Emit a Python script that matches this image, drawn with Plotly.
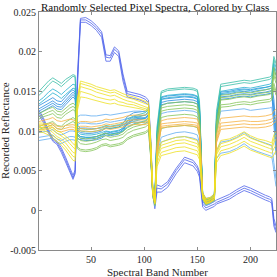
import plotly.graph_objects as go

# Key spectral band positions where values were read
bands = [1, 5, 10, 14, 18, 22, 26, 30, 33, 35,
         37, 40, 45, 50, 55, 60, 64, 68, 72, 76, 80, 84, 90, 96, 101, 104,
         106, 108, 110, 112,
         116, 122, 130, 138, 146, 150, 152,
         155, 158, 162, 166,
         168, 172, 180, 187, 194, 200, 207, 214, 218,
         220, 222, 224]

# Reflectance values (x 1e-3), one list per drawn spectrum
bp1 = [12.3, 11.4, 9.9, 8.9, 8.5, 7.6, 6.4, 5.0, 4.1, 4.8,
       16.0, 24.0, 24.0, 23.6, 23.0, 22.2, 19.3, 19.2, 20.3, 19.8, 16.8, 14.7, 14.5, 14.3, 14.0, 13.6,
       9.0, 2.5, 0.8, 2.8,
       2.7, 3.3, 5.0, 6.4, 6.0, 5.3, 4.6,
       0.8, 0.3, 0.5, 0.8,
       1.0, 1.2, 1.7, 2.3, 2.8, 2.5, 2.0, 1.6, 1.4,
       1.2, -1.5, -2.5]
bp2 = [12.0, 11.1, 9.7, 8.7, 8.3, 7.3, 6.1, 4.7, 3.9, 4.6,
       15.0, 23.7, 23.7, 23.3, 22.7, 21.8, 18.8, 18.8, 19.9, 19.4, 16.3, 14.3, 14.1, 13.9, 13.6, 13.3,
       8.5, 2.0, 0.2, 2.3,
       2.3, 2.9, 4.6, 6.0, 5.6, 4.9, 4.2,
       0.4, 0.0, 0.3, 0.5,
       0.8, 1.0, 1.4, 2.0, 2.5, 2.2, 1.7, 1.3, 1.1,
       0.9, -2.0, -2.8]
bp3 = [12.6, 11.7, 10.1, 9.1, 8.7, 7.9, 6.7, 5.3, 4.4, 5.1,
       16.5, 24.2, 24.3, 23.9, 23.3, 22.5, 19.6, 19.5, 20.6, 20.1, 17.2, 15.0, 14.8, 14.6, 14.3, 13.9,
       9.4, 3.0, 1.2, 3.2,
       3.0, 3.6, 5.3, 6.7, 6.3, 5.6, 4.9,
       1.1, 0.6, 0.8, 1.1,
       1.3, 1.5, 2.0, 2.6, 3.1, 2.8, 2.3, 1.9, 1.7,
       1.5, -1.0, -2.0]

mb1 = [12.8, 13.1, 13.5, 13.8, 13.4, 13.3, 13.9, 14.5, 14.9, 14.6,
       10.2, 9.8, 9.7, 9.7, 9.8, 10.0, 10.4, 10.3, 10.4, 10.5, 10.9, 11.8, 12.3, 12.4, 12.5, 12.9,
       8.5, 2.7, 1.3, 9.5,
       14.2, 14.4, 14.5, 14.6, 14.5, 14.3, 13.0,
       2.0, 1.3, 1.4, 1.9,
       11.5, 14.9, 15.0, 15.2, 15.3, 15.2, 15.4, 15.5, 15.6,
       15.7, 14.0, 10.0]
mb2 = [12.2, 12.5, 12.9, 13.2, 12.8, 12.7, 13.3, 13.9, 14.3, 14.0,
       9.7, 9.3, 9.2, 9.2, 9.3, 9.5, 9.9, 9.8, 9.9, 10.0, 10.4, 11.3, 11.8, 11.9, 12.0, 12.4,
       8.0, 2.3, 1.0, 9.0,
       13.6, 13.8, 13.9, 14.0, 13.9, 13.7, 12.4,
       1.8, 1.0, 1.2, 1.6,
       11.0, 14.3, 14.4, 14.6, 14.7, 14.6, 14.8, 14.9, 15.0,
       15.1, 12.0, 8.0]
mb3 = [12.5, 12.8, 13.2, 13.5, 13.1, 13.0, 13.6, 14.2, 14.6, 14.3,
       9.5, 9.1, 9.0, 9.0, 9.1, 9.3, 9.7, 9.6, 9.7, 9.8, 10.2, 11.0, 11.5, 11.6, 11.7, 12.1,
       7.8, 2.2, 0.9, 8.8,
       13.3, 13.5, 13.6, 13.7, 13.6, 13.4, 12.1,
       1.7, 1.0, 1.1, 1.5,
       10.8, 14.0, 14.1, 14.3, 14.4, 14.3, 14.5, 14.6, 14.7,
       14.8, 11.0, 7.0]
mb4 = [13.2, 13.5, 13.9, 14.2, 13.8, 13.7, 14.3, 14.9, 15.2, 14.9,
       9.0, 8.9, 8.8, 8.8, 8.9, 9.1, 9.5, 9.4, 9.5, 9.6, 10.0, 10.9, 11.4, 11.5, 11.6, 12.0,
       7.6, 2.1, 0.8, 9.2,
       14.0, 14.1, 14.2, 14.3, 14.2, 14.0, 12.7,
       1.9, 1.1, 1.3, 1.7,
       11.2, 14.6, 14.7, 14.9, 15.0, 14.9, 15.1, 15.2, 15.3,
       15.4, 13.0, 9.0]

lb1 = [9.8, 9.9, 10.0, 10.2, 9.7, 9.5, 9.8, 10.0, 10.0, 9.9,
       11.8, 12.0, 12.0, 11.9, 11.9, 12.0, 12.1, 12.0, 12.1, 12.2, 12.3, 12.4, 12.5, 12.5, 12.4, 12.6,
       8.2, 2.4, 1.0, 9.0,
       12.2, 12.4, 12.5, 12.6, 12.5, 12.3, 11.0,
       1.8, 1.0, 1.2, 1.6,
       10.0, 12.5, 12.6, 12.7, 12.8, 12.6, 12.7, 12.8, 12.9,
       13.0, 11.0, 8.0]
lb2 = [9.2, 9.3, 9.4, 9.5, 9.0, 8.8, 9.1, 9.3, 9.3, 9.2,
       10.8, 11.0, 11.0, 10.9, 10.9, 11.0, 11.2, 11.1, 11.2, 11.3, 11.4, 11.6, 11.7, 11.7, 11.6, 11.8,
       7.8, 2.1, 0.8, 7.0,
       9.2, 9.5, 9.8, 9.9, 9.7, 9.5, 8.5,
       1.6, 0.8, 1.0, 1.4,
       7.5, 8.6, 8.8, 9.2, 9.8, 9.2, 8.8, 8.5, 8.3,
       8.2, 6.0, 4.0]
lb3 = [8.8, 8.9, 9.0, 9.1, 8.6, 8.4, 8.7, 8.9, 8.9, 8.8,
       10.2, 10.4, 10.4, 10.3, 10.3, 10.4, 10.6, 10.5, 10.6, 10.7, 10.8, 11.0, 11.1, 11.1, 11.0, 11.2,
       7.5, 1.9, 0.5, 6.5,
       8.6, 8.9, 9.2, 9.3, 9.1, 8.9, 8.0,
       1.4, 0.6, 0.8, 1.2,
       6.5, 7.2, 7.4, 7.8, 8.4, 7.8, 7.4, 7.1, 6.9,
       6.8, 5.0, 3.0]

cy1 = [14.5, 15.0, 15.8, 16.3, 16.0, 15.6, 16.1, 16.6, 16.9, 16.8,
       10.5, 10.0, 9.9, 9.9, 10.0, 10.2, 10.4, 10.3, 10.4, 10.5, 10.7, 11.2, 11.6, 11.8, 12.0, 12.4,
       8.5, 2.8, 1.4, 10.0,
       14.8, 15.1, 15.2, 15.3, 15.2, 15.0, 13.5,
       2.1, 1.4, 1.5, 2.0,
       12.0, 15.6, 15.8, 16.0, 16.1, 16.0, 16.2, 16.4, 16.5,
       16.7, 19.0, 18.0]
cy2 = [13.8, 14.2, 14.9, 15.3, 15.0, 14.6, 15.1, 15.6, 15.9, 15.8,
       10.0, 9.6, 9.5, 9.5, 9.6, 9.8, 10.0, 9.9, 10.0, 10.1, 10.3, 10.8, 11.2, 11.4, 11.6, 12.0,
       8.2, 2.5, 1.1, 9.5,
       14.3, 14.5, 14.6, 14.7, 14.6, 14.4, 13.0,
       1.9, 1.2, 1.3, 1.8,
       11.5, 15.0, 15.2, 15.4, 15.5, 15.4, 15.6, 15.8, 15.9,
       16.1, 18.5, 17.5]
cy3 = [15.0, 15.6, 16.3, 16.7, 16.4, 16.0, 16.5, 16.9, 17.1, 17.0,
       10.8, 10.3, 10.2, 10.2, 10.3, 10.5, 10.7, 10.6, 10.7, 10.8, 11.0, 11.5, 11.9, 12.1, 12.3, 12.7,
       8.8, 3.0, 1.5, 10.5,
       15.0, 15.3, 15.4, 15.5, 15.4, 15.2, 13.8,
       2.2, 1.5, 1.6, 2.1,
       12.5, 15.9, 16.1, 16.3, 16.4, 16.3, 16.5, 16.7, 16.8,
       17.0, 19.4, 18.5]
cy4 = [13.4, 13.8, 14.4, 14.8, 14.5, 14.1, 14.6, 15.1, 15.4, 15.3,
       9.6, 9.3, 9.2, 9.2, 9.3, 9.5, 9.7, 9.6, 9.7, 9.8, 10.0, 10.5, 10.9, 11.1, 11.3, 11.7,
       8.0, 2.3, 1.0, 9.2,
       14.0, 14.2, 14.3, 14.4, 14.3, 14.1, 12.7,
       1.8, 1.1, 1.2, 1.7,
       11.2, 14.7, 14.9, 15.1, 15.2, 15.1, 15.3, 15.5, 15.6,
       15.8, 18.0, 17.0]

gr1 = [12.2, 12.5, 12.8, 13.0, 12.5, 12.4, 12.9, 13.3, 13.5, 13.3,
       9.5, 9.1, 9.0, 9.1, 9.3, 9.6, 9.7, 9.5, 9.6, 9.7, 9.9, 10.4, 10.8, 11.0, 11.2, 11.5,
       8.0, 2.6, 1.2, 9.0,
       13.2, 13.5, 13.6, 13.7, 13.6, 13.4, 12.0,
       2.0, 1.3, 1.4, 1.8,
       11.0, 14.5, 14.6, 14.8, 14.9, 14.8, 15.0, 15.2, 15.3,
       15.5, 18.0, 17.0]
gr2 = [11.5, 11.8, 12.0, 12.2, 11.7, 11.6, 12.1, 12.5, 12.7, 12.5,
       8.8, 8.4, 8.3, 8.4, 8.6, 8.9, 9.0, 8.8, 8.9, 9.0, 9.2, 9.7, 10.1, 10.3, 10.5, 10.8,
       7.5, 2.2, 0.9, 8.5,
       12.5, 12.7, 12.8, 12.9, 12.8, 12.6, 11.3,
       1.7, 1.0, 1.2, 1.5,
       10.5, 13.9, 14.0, 14.2, 14.3, 14.2, 14.4, 14.5, 14.6,
       14.8, 17.0, 16.0]
gr3 = [10.5, 10.8, 11.0, 11.2, 10.7, 10.6, 11.1, 11.5, 11.7, 11.5,
       8.0, 7.7, 7.6, 7.7, 7.9, 8.3, 8.4, 8.2, 8.3, 8.4, 8.6, 9.1, 9.5, 9.7, 9.9, 10.2,
       7.0, 1.9, 0.7, 8.0,
       11.7, 11.9, 12.0, 12.1, 12.0, 11.8, 10.6,
       1.5, 0.8, 1.0, 1.3,
       10.0, 13.3, 13.4, 13.6, 13.7, 13.6, 13.8, 13.9, 14.0,
       14.2, 16.0, 15.0]
gr4 = [11.8, 12.1, 12.4, 12.6, 12.1, 12.0, 12.5, 12.9, 13.1, 12.9,
       9.2, 8.8, 8.7, 8.8, 9.0, 9.3, 9.4, 9.2, 9.3, 9.4, 9.6, 10.1, 10.5, 10.7, 10.9, 11.2,
       7.8, 2.4, 1.0, 8.8,
       12.9, 13.1, 13.2, 13.3, 13.2, 13.0, 11.7,
       1.8, 1.1, 1.3, 1.6,
       10.8, 14.2, 14.3, 14.5, 14.6, 14.5, 14.7, 14.8, 14.9,
       15.1, 17.5, 16.5]
gr5 = [10.2, 10.4, 10.6, 10.8, 10.3, 10.2, 10.7, 11.0, 11.2, 11.0,
       7.8, 7.5, 7.4, 7.5, 7.7, 8.1, 8.2, 8.0, 8.1, 8.2, 8.4, 8.9, 9.3, 9.5, 9.7, 10.0,
       6.8, 1.8, 0.6, 7.5,
       10.3, 10.5, 10.6, 10.7, 10.6, 10.4, 9.4,
       1.4, 0.7, 0.9, 1.2,
       9.5, 13.0, 13.1, 13.3, 13.4, 13.3, 13.5, 13.6, 13.7,
       13.9, 15.5, 14.5]

or1 = [11.2, 11.3, 11.5, 11.7, 11.3, 11.2, 11.4, 11.5, 11.4, 11.3,
       11.0, 11.2, 11.2, 11.1, 11.2, 11.3, 11.5, 11.4, 11.5, 11.6, 11.7, 11.9, 12.0, 12.0, 12.0, 12.2,
       8.5, 2.8, 1.5, 8.0,
       11.3, 11.5, 11.6, 11.7, 11.6, 11.5, 10.5,
       2.2, 1.5, 1.6, 2.0,
       9.5, 11.6, 11.7, 11.8, 11.9, 11.8, 11.8, 11.9, 12.0,
       12.1, 12.5, 12.8]
or2 = [10.7, 10.8, 10.9, 11.0, 10.6, 10.5, 10.7, 10.8, 10.8, 10.7,
       10.5, 10.6, 10.6, 10.5, 10.6, 10.7, 10.9, 10.8, 10.9, 11.0, 11.1, 11.3, 11.4, 11.4, 11.4, 11.6,
       8.0, 2.4, 1.2, 7.5,
       10.9, 11.0, 11.1, 11.2, 11.1, 11.0, 10.0,
       1.9, 1.2, 1.3, 1.7,
       9.0, 11.0, 11.1, 11.2, 11.3, 11.2, 11.2, 11.3, 11.4,
       11.5, 11.8, 12.0]
or3 = [10.1, 10.2, 10.3, 10.5, 10.0, 9.9, 10.1, 10.2, 10.2, 10.1,
       9.9, 10.0, 10.0, 9.9, 10.0, 10.1, 10.3, 10.2, 10.3, 10.4, 10.5, 10.7, 10.8, 10.8, 10.8, 11.0,
       7.5, 2.0, 0.9, 7.0,
       10.4, 10.5, 10.6, 10.7, 10.6, 10.5, 9.5,
       1.6, 0.9, 1.0, 1.4,
       8.5, 10.2, 10.3, 10.4, 10.5, 10.4, 10.4, 10.5, 10.6,
       10.7, 11.0, 11.2]
or4 = [10.4, 10.5, 10.6, 10.8, 10.3, 10.2, 10.4, 10.5, 10.5, 10.4,
       10.2, 10.3, 10.3, 10.2, 10.3, 10.4, 10.6, 10.5, 10.6, 10.7, 10.8, 11.0, 11.1, 11.1, 11.1, 11.3,
       7.8, 2.2, 1.0, 7.2,
       10.6, 10.7, 10.8, 10.9, 10.8, 10.7, 9.7,
       1.7, 1.0, 1.1, 1.5,
       8.7, 10.6, 10.7, 10.8, 10.9, 10.8, 10.8, 10.9, 11.0,
       11.1, 11.4, 11.6]

ye1 = [11.0, 11.0, 10.8, 10.4, 10.0, 9.8, 9.4, 8.9, 8.4, 8.2,
       14.0, 16.3, 16.1, 15.9, 15.6, 15.4, 15.2, 15.1, 15.2, 14.9, 14.7, 14.5, 14.3, 14.0, 13.7, 13.6,
       9.0, 3.0, 1.5, 7.0,
       8.6, 8.9, 9.2, 9.3, 9.0, 8.8, 8.0,
       2.2, 1.4, 1.6, 2.0,
       7.5, 8.8, 9.0, 9.4, 9.9, 9.4, 9.0, 8.8, 8.6,
       8.5, 9.5, 10.0]
ye2 = [10.5, 10.4, 10.2, 9.8, 9.3, 9.0, 8.5, 7.8, 7.3, 7.2,
       13.5, 15.6, 15.4, 15.2, 14.9, 14.7, 14.5, 14.4, 14.5, 14.2, 14.0, 13.8, 13.6, 13.3, 13.0, 12.9,
       8.5, 2.6, 1.2, 6.5,
       7.8, 8.1, 8.4, 8.5, 8.2, 8.0, 7.3,
       1.8, 1.1, 1.3, 1.7,
       7.0, 8.0, 8.3, 8.7, 9.2, 8.7, 8.3, 8.0, 7.8,
       7.7, 8.5, 9.0]
ye3 = [9.9, 9.8, 9.5, 9.1, 8.6, 8.2, 7.6, 6.8, 6.3, 6.2,
       12.5, 14.3, 14.2, 14.0, 13.8, 13.6, 13.5, 13.4, 13.5, 13.3, 13.2, 13.1, 13.0, 12.8, 12.6, 12.5,
       8.0, 2.2, 0.8, 5.5,
       6.9, 7.1, 7.4, 7.5, 7.2, 7.0, 6.4,
       1.5, 0.8, 1.0, 1.4,
       6.0, 6.9, 7.2, 7.6, 8.1, 7.6, 7.2, 6.9, 6.7,
       6.6, 7.0, 7.5]
ye4 = [10.8, 10.7, 10.5, 10.1, 9.7, 9.4, 9.0, 8.4, 7.9, 7.7,
       13.8, 16.0, 15.8, 15.6, 15.3, 15.1, 14.9, 14.8, 14.9, 14.6, 14.4, 14.2, 14.0, 13.7, 13.4, 13.3,
       8.8, 2.8, 1.3, 6.8,
       8.2, 8.5, 8.8, 8.9, 8.6, 8.4, 7.7,
       2.0, 1.2, 1.4, 1.8,
       7.2, 8.4, 8.7, 9.1, 9.6, 9.1, 8.7, 8.4, 8.2,
       8.1, 9.0, 9.5]
ye5 = [10.2, 10.1, 9.8, 9.4, 8.9, 8.6, 8.0, 7.3, 6.8, 6.7,
       13.0, 15.0, 14.8, 14.6, 14.3, 14.1, 14.0, 13.9, 14.0, 13.7, 13.6, 13.4, 13.3, 13.0, 12.8, 12.7,
       8.2, 2.4, 1.0, 6.0,
       7.3, 7.6, 7.9, 8.0, 7.7, 7.5, 6.8,
       1.6, 0.9, 1.1, 1.5,
       6.5, 7.5, 7.8, 8.2, 8.7, 8.2, 7.8, 7.5, 7.3,
       7.2, 7.8, 8.2]

# Class colours (parula-like)
series = [
    (bp1, "#5064ec"), (bp2, "#5064ec"), (bp3, "#5064ec"),
    (mb1, "#2a8fe2"), (mb2, "#2a8fe2"), (mb3, "#2a8fe2"), (mb4, "#2a8fe2"),
    (lb1, "#62aef2"), (lb2, "#62aef2"), (lb3, "#62aef2"),
    (cy1, "#3cc0aa"), (cy2, "#25b1d2"), (cy3, "#3cc0aa"), (cy4, "#25b1d2"),
    (gr1, "#86c65a"), (gr2, "#86c65a"), (gr3, "#86c65a"), (gr4, "#86c65a"), (gr5, "#86c65a"),
    (or1, "#f7b444"), (or2, "#f7b444"), (or3, "#f7b444"), (or4, "#f7b444"),
    (ye1, "#efe224"), (ye2, "#efe224"), (ye3, "#efe224"), (ye4, "#efe224"), (ye5, "#efe224"),
]

y_tickvals = [-0.005, 0, 0.005, 0.01, 0.015, 0.02, 0.025]
y_ticktext = ["-0.005", "0", "0.005", "0.01", "0.015", "0.02", "0.025"]
x_tickvals = [50, 100, 150, 200]
x_ticktext = ["50", "100", "150", "200"]

fig = go.Figure()
for vals, col in series:
    fig.add_trace(go.Scatter(
        x=bands, y=[v / 1000 for v in vals], mode="lines",
        line=dict(color=col, width=1), opacity=0.8,
        showlegend=False, hoverinfo="skip"))

font_family = "Liberation Serif"
axis_col = "#8a8a8a"
fig.update_layout(
    width=277, height=277,
    margin=dict(l=39, r=1, t=12, b=27),
    paper_bgcolor="white", plot_bgcolor="white",
    font=dict(family=font_family, size=10, color="#262626"),
    showlegend=False,
)
fig.update_xaxes(
    range=[1, 224], tickvals=x_tickvals, ticktext=x_ticktext,
    ticks="inside", ticklen=3, tickcolor=axis_col, showline=True, linecolor=axis_col,
    linewidth=1, mirror="ticks", showgrid=False, zeroline=False, automargin=False,
    tickfont=dict(family=font_family, size=10, color="#262626"))
fig.update_yaxes(
    range=[-0.005, 0.025], tickvals=y_tickvals, ticktext=y_ticktext,
    ticks="inside", ticklen=3, tickcolor=axis_col, showline=True, linecolor=axis_col,
    linewidth=1, mirror="ticks", showgrid=False, zeroline=False, automargin=False,
    tickfont=dict(family=font_family, size=10, color="#262626"))

fig.add_annotation(text="Randomly Selected Pixel Spectra, Colored by Class",
                   xref="paper", yref="paper", x=0.49, y=1.052, yanchor="top",
                   borderpad=0, showarrow=False,
                   font=dict(family=font_family, size=11, color="#111"))
fig.add_annotation(text="Spectral Band Number", xref="paper", yref="paper",
                   x=0.5, y=-0.092, yanchor="middle", showarrow=False,
                   font=dict(family=font_family, size=11, color="#262626"))
fig.add_annotation(text="Recorded Reflectance", xref="paper", yref="paper",
                   x=-0.143, y=0.5, textangle=-90, xanchor="center", showarrow=False,
                   font=dict(family=font_family, size=11, color="#262626"))

fig.write_html("out.html", config={"displayModeBar": False},
               post_script="document.body.style.margin='0';document.body.style.overflow='hidden';")
